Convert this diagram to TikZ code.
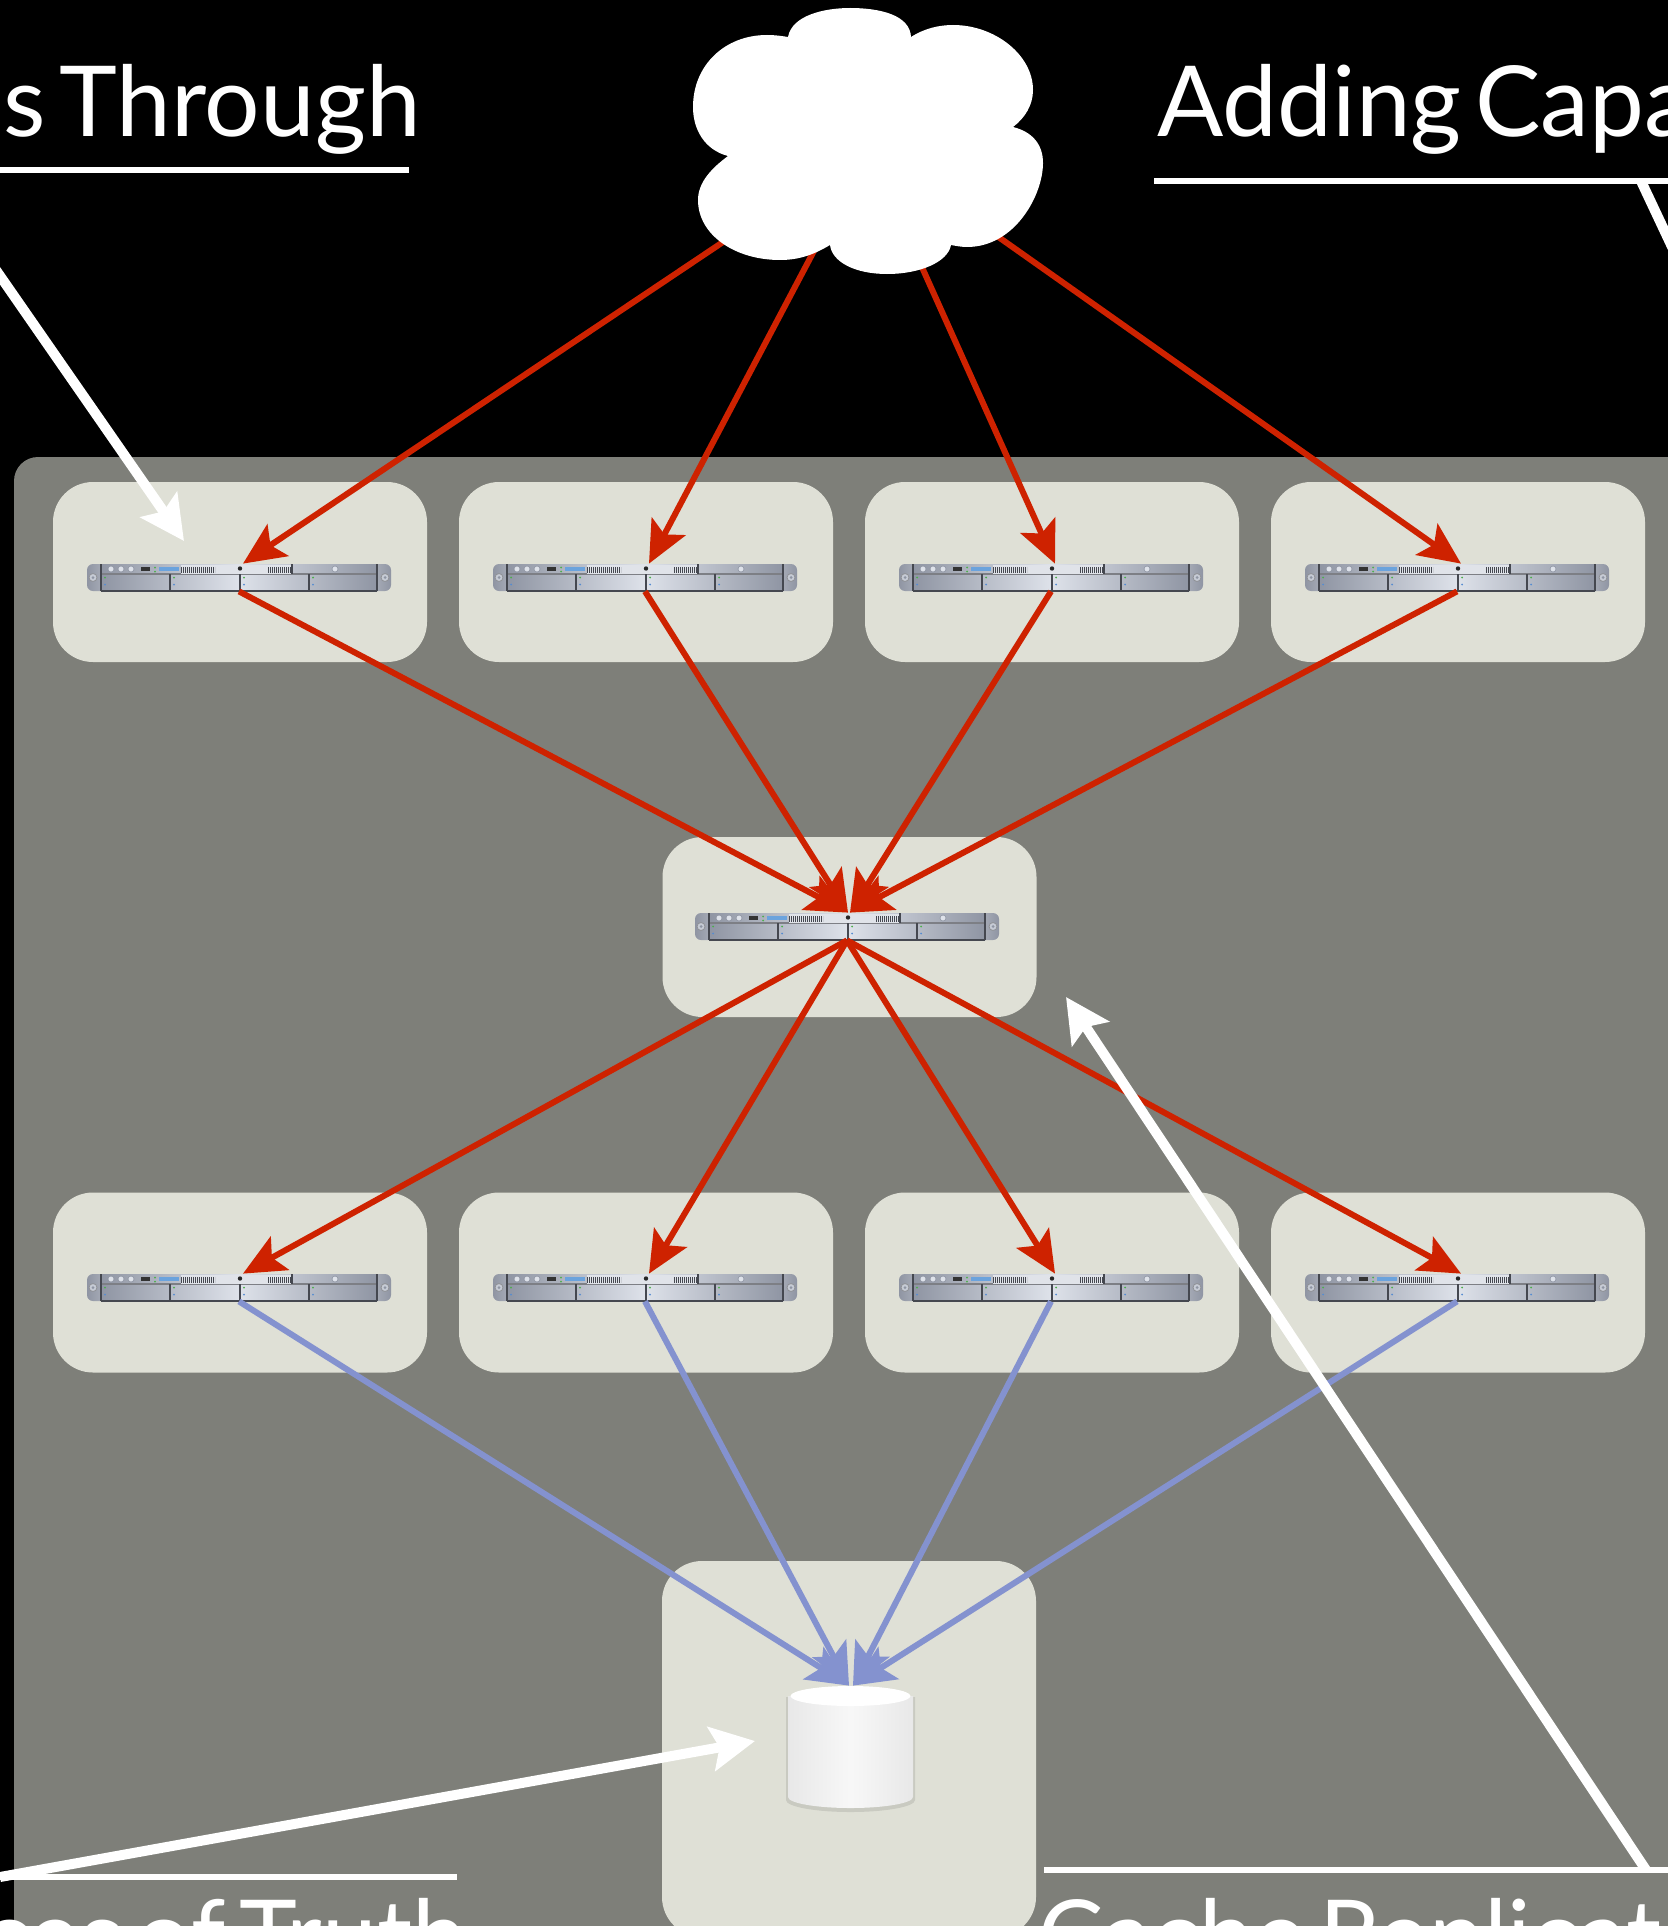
\documentclass[tikz,border=0pt]{standalone}
\usepackage{fontspec}
\setmainfont[WordSpace=0.55]{Lato}
\usetikzlibrary{arrows.meta}
\usetikzlibrary{positioning}
\definecolor{panelgray}{HTML}{7E7F79}
\definecolor{boxgray}{HTML}{DFE0D6}
\definecolor{linkred}{HTML}{CE2200}
\definecolor{linkblue}{HTML}{8492CF}
\definecolor{rackedge}{HTML}{8F95A3}
\definecolor{rackmid}{HTML}{DEE2EA}
\definecolor{rackline}{HTML}{454850}
\definecolor{platelight}{HTML}{E0E3E9}
\tikzset{
    hostbox/.style = {fill=boxgray,rounded corners=20pt,minimum width=187pt,minimum height=90pt,inner sep=0},
    hostrack/.style = {minimum width=152pt,minimum height=13.5pt,inner sep=0},
    readlink/.style = {linkred,line width=3pt,-{Stealth[length=21pt,width=19pt,inset=4.5pt]}},
    loadlink/.style = {linkblue,line width=3pt,-{Stealth[length=21pt,width=19pt,inset=4.5pt]}},
    callout/.style = {white,line width=5pt,-{Stealth[length=22pt,width=22pt,inset=4pt]}},
    rule/.style = {white,line width=2.7pt},
    heading/.style = {white,font=\fontsize{49}{49}\selectfont,inner sep=0,anchor=base west}
}
\newcommand*\hostat[3]{
    \node[hostrack] (#1) at (#2,#3) {};
    \begin{scope}[shift={(#2,#3)}]
        % Ears
        \shade[rounded corners=3pt,left color=rackedge,right color=rackedge!70!white] (-152,-13.5) rectangle (-130,13.5);
        \shade[rounded corners=3pt,left color=rackedge!70!white,right color=rackedge] (130,-13.5) rectangle (152,13.5);
        % Body
        \shade[left color=rackedge,right color=rackedge,middle color=rackmid] (-138,-13.5) rectangle (138,13.5);
        \draw[rackline!70!white,line width=0.8pt] (-138,-3.5) -- (138,-3.5);
        \draw[rackline,line width=0.9pt] (-138,13.5) -- (138,13.5);
        \foreach \xpos in {-138,-69,1,70,138}
            \draw[rackline,line width=0.8pt] (\xpos,-3.5) -- (\xpos,13.5);
        \foreach \xpos in {-138,53,138}
            \draw[rackline,line width=0.8pt] (\xpos,-13.5) -- (\xpos,-3.5);
        % Face plate
        \fill[platelight] (-58,-12.5) rectangle (52,-4);
        \foreach \xpos in {-146,146} {
            \draw[rackline!60!white,fill=rackmid!70!rackedge,line width=0.4pt] (\xpos,0) circle (4);
            \fill[rackedge] (\xpos,0) circle (1.5);
        }
        \foreach \xpos in {-128,-118,-108,96}
            \draw[rackedge,fill=rackmid,line width=0.3pt] (\xpos,-8.5) circle (3);
        \fill[black!80] (-98,-11) rectangle (-89,-6.5);
        \foreach \ypos in {-10,-6}
            \fill[green!55!black!70] (-84,\ypos) circle (1);
        \draw[cyan!60!blue!60!white,line width=1.8pt] (-80,-8.5) -- (-60,-8.5);
        \foreach \xstart/\xstop in {-58/-24,29/52}
            \draw[rackline,line width=3pt,dash pattern=on 0.6pt off 0.4pt] (\xstart,-8) -- (\xstop,-8);
        \fill[black!85] (1,-9) circle (2.2);
        \foreach \xpos in {-134,-65,5,74} {
            \fill[green!55!black!70] (\xpos,0) circle (1);
            \fill[cyan!50!blue!70!white] (\xpos,7) circle (1);
        }
    \end{scope}
}
\begin{document}
\begin{tikzpicture}[x=0.5pt,y=-0.5pt]
    \newcommand*\hsep{406}
    \path[use as bounding box] (0,0) rectangle (1668,1926);
    \clip (0,0) rectangle (1668,1926);
    \fill[black] (0,0) rectangle (1668,1926);
    % Panel
    \fill[panelgray,rounded corners=12pt] (14,457) rectangle (1720,2000);
    % Headings
    \node[heading,anchor=base east] (through) at (421,137) {es Through};
    \node[heading] (capacity) at (1157,137) {Adding Capa};
    \node[heading,anchor=base east] (truth) at (467,1970) {ces of Truth};
    \node[heading] (replica) at (1038,1970) {Cache Replicat};
    % Boxes
    \foreach \name/\col in {a/0,b/1,c/2,d/3} {
        \node[hostbox] (box\name) at (240+\col*\hsep,572) {};
        \node[hostbox] (low\name) at (240+\col*\hsep,1282.5) {};
    }
    \node[hostbox] (boxmid) at (849.5,927) {};
    \node[hostbox,minimum height=188pt] (boxdb) at (849,1749) {};
    % Servers
    \foreach \name/\col in {a/0,b/1,c/2,d/3} {
        \hostat{up\name}{239+\col*\hsep}{577.5}
        \hostat{dn\name}{239+\col*\hsep}{1287.5}
    }
    \hostat{mid}{847}{926.5}
    % Database
    \node[inner sep=0,minimum width=63pt,minimum height=61pt] (store) at (850,1747) {};
    \fill[black!10!boxgray] (786,1697) -- (786,1800) arc[start angle=180,end angle=0,x radius=64.5,y radius=12] -- (915,1697) -- cycle;
    \shade[left color=black!9,right color=black!9,middle color=white!97!black]
        (788,1696) -- (788,1797) arc[start angle=180,end angle=0,x radius=62.5,y radius=11] -- (913,1696) -- cycle;
    \fill[white] (850.5,1696) ellipse (60 and 10);
    % Cloud exits
    \coordinate (exita) at (735,234);
    \coordinate (exitb) at (825,230);
    \coordinate (exitc) at (912,245);
    \coordinate (exitd) at (980,224);
    % Red links
    \foreach \src/\dest in {exita/upa,exitb/upb,exitc/upc,exitd/upd}
        \draw[readlink] (\src) to ([xshift=2pt]\dest.north);
    \foreach \src in {upa,upb}
        \draw[readlink] (\src.south) to ([xshift=0.5pt]mid.north);
    \foreach \src in {upc,upd}
        \draw[readlink] (\src.south) to ([xshift=1.5pt]mid.north);
    \foreach \dest in {dna,dnb,dnc,dnd}
        \draw[readlink] (mid.south) to ([xshift=2pt]\dest.north);
    % Blue links
    \foreach \src in {dna,dnb}
        \draw[loadlink] (\src.south) to ([xshift=-0.5pt]store.north);
    \foreach \src in {dnc,dnd}
        \draw[loadlink] (\src.south) to ([xshift=1.5pt]store.north);
    % Cloud
    \fill[white] (788,37) .. controls (792,15) and (825,8) .. (850,8)
        .. controls (880,8) and (910,15) .. (911,37)
        .. controls (925,28) and (940,25) .. (953,25)
        .. controls (995,25) and (1033,55) .. (1033,90)
        .. controls (1033,105) and (1025,118) .. (1013,127)
        .. controls (1033,132) and (1043,145) .. (1043,163)
        .. controls (1043,195) and (1015,247) .. (967,247)
        .. controls (962,247) and (956,246) .. (951,245)
        .. controls (948,262) and (920,274) .. (887,274)
        .. controls (855,274) and (832,262) .. (830,245)
        .. controls (815,254) and (800,260) .. (780,260)
        .. controls (735,260) and (698,235) .. (698,200)
        .. controls (698,182) and (712,168) .. (728,156)
        .. controls (705,150) and (693,130) .. (693,107)
        .. controls (693,65) and (725,35) .. (767,35)
        .. controls (775,35) and (782,36) .. (788,37) -- cycle;
    % Rules under headings
    \coordinate (rulea) at (0,170);
    \coordinate (ruleb) at (409,170);
    \coordinate (rulec) at (1154,181);
    \coordinate (ruled) at (1668,181);
    \coordinate (rulee) at (0,1877);
    \coordinate (rulef) at (457,1877);
    \coordinate (ruleg) at (1044,1870);
    \coordinate (ruleh) at (1668,1870);
    \foreach \src/\dest in {rulea/ruleb,rulec/ruled,rulee/rulef,ruleg/ruleh}
        \draw[rule] (\src) to (\dest);
    % Callouts
    \coordinate (tipa) at (184,541);
    \coordinate (tailb) at (-20,247);
    \draw[callout] (tailb) to (tipa);
    \coordinate (tipb) at (755,1741);
    \draw[callout] (rulee) to (tipb);
    \coordinate (tipc) at (1066,997);
    \coordinate (tailc) at (1646,1870);
    \draw[callout] (tailc) to (tipc);
    \coordinate (taild) at (1641,181);
    \coordinate (endd) at (1690,285);
    \draw[white,line width=5pt] (taild) to (endd);
\end{tikzpicture}
\end{document}
